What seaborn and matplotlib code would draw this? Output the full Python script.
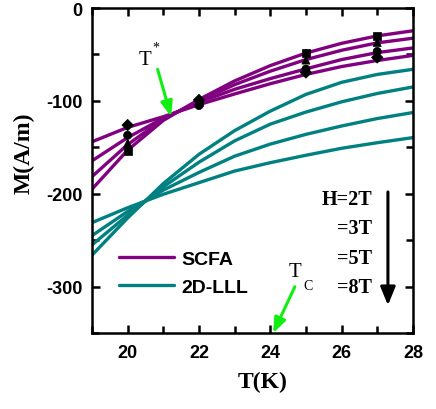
import numpy as np
import pandas as pd
import seaborn as sns
import matplotlib.pyplot as plt
from matplotlib.lines import Line2D
from matplotlib.ticker import MultipleLocator

T = [19, 20, 21, 22, 23, 24, 25, 26, 27, 28]

# SCFA fits (purple)
scfa_2T = [-195, -153, -121, -98.5, -78.5, -62, -48.5, -38, -30, -24.5]
scfa_3T = [-181.5, -147, -119.5, -100, -82.5, -68, -55.5, -45.5, -37.5, -32.5]
scfa_5T = [-164.5, -139.5, -118.5, -101.5, -87.5, -76, -65.5, -55.5, -48, -43]
scfa_8T = [-144, -128.5, -117, -104, -92.5, -81.5, -71.5, -63, -56.5, -51]

# 2D-LLL fits (teal)
lll_2T = [-266, -226, -189, -157.5, -132, -111, -93, -80, -71.5, -66]
lll_3T = [-255, -223, -192.5, -166, -143, -125, -112, -101, -92, -85]
lll_5T = [-245, -219, -196, -177, -159.5, -146.5, -136, -127, -119, -112.5]
lll_8T = [-231, -215, -200.5, -188, -175.5, -166.5, -158.5, -151, -145, -139.5]

# measured points
T_pts = [20, 22, 25, 27]
pts_2T = [-154, -101, -48.5, -30.5]
pts_3T = [-145.6, -100, -56, -37]
pts_5T = [-137, -105, -65.8, -46.7]
pts_8T = [-126, -99, -69.4, -53.2]
err = 4

fields = ['2T', '3T', '5T', '8T']

rows = []
for model, curves in [('SCFA', [scfa_2T, scfa_3T, scfa_5T, scfa_8T]),
                      ('2D-LLL', [lll_2T, lll_3T, lll_5T, lll_8T])]:
    for h, vals in zip(fields, curves):
        for t, m in zip(T, vals):
            rows.append({'T': t, 'M': m, 'model': model, 'H': model + h})
curves_df = pd.DataFrame(rows)

pts_rows = []
for h, vals in zip(fields, [pts_2T, pts_3T, pts_5T, pts_8T]):
    for t, m in zip(T_pts, vals):
        pts_rows.append({'T': t, 'M': m, 'H': h})
pts_df = pd.DataFrame(pts_rows)

sns.set_style('ticks')
plt.rcParams['font.family'] = ['Liberation Sans', 'DejaVu Sans']
plt.rcParams['axes.unicode_minus'] = False
plt.rcParams['text.color'] = 'black'
plt.rcParams['axes.labelcolor'] = 'black'
plt.rcParams['xtick.color'] = 'black'
plt.rcParams['ytick.color'] = 'black'
plt.rcParams['axes.edgecolor'] = 'black'

fig = plt.figure(figsize=(4.36, 4.10), dpi=100)
ax = fig.add_axes([0.211, 0.185, 0.736, 0.793])

colors = {'SCFA': '#800080', '2D-LLL': '#008080'}
sns.lineplot(data=curves_df, x='T', y='M', hue='model', units='H', estimator=None,
             palette=colors, linewidth=2.4, legend=False, ax=ax, zorder=2)

ax.errorbar(pts_df['T'], pts_df['M'], yerr=err, fmt='none', ecolor='black',
            elinewidth=1.2, zorder=3)
sns.scatterplot(data=pts_df, x='T', y='M', style='H', markers=['s', '^', 'o', 'D'],
                color='black', s=34, edgecolor='black', linewidth=0.5,
                legend=False, ax=ax, zorder=4)

ax.set_xlim(19, 28)
ax.set_ylim(-350, 0)
ax.xaxis.set_major_locator(MultipleLocator(2))
ax.xaxis.set_minor_locator(MultipleLocator(1))
ax.yaxis.set_major_locator(MultipleLocator(100))
ax.yaxis.set_minor_locator(MultipleLocator(50))
ax.tick_params(which='both', direction='in', top=True, right=True, width=1.8,
               color='black')
ax.tick_params(which='major', length=6, labelsize=13)
ax.tick_params(which='minor', length=5)
ax.tick_params(axis='x', pad=8)
ax.tick_params(axis='y', pad=7)
for lab in ax.get_xticklabels() + ax.get_yticklabels():
    lab.set_fontweight('bold')
for sp in ax.spines.values():
    sp.set_linewidth(1.8)
    sp.set_visible(True)

serif = ['Liberation Serif', 'DejaVu Serif']
ax.set_xlabel('T(K)', fontsize=17, fontweight='bold', family=serif)
ax.set_ylabel('M(A/m)', fontsize=17, fontweight='bold', family=serif)
ax.xaxis.set_label_coords(0.533, -0.115)
ax.yaxis.set_label_coords(-0.18, 0.555)

handles = [Line2D([], [], color=colors['SCFA'], lw=2.4),
           Line2D([], [], color=colors['2D-LLL'], lw=2.4)]
ax.legend(handles, ['SCFA', '2D-LLL'], loc='lower left', bbox_to_anchor=(0.03, 0.06),
          frameon=False, handlelength=2.8, handletextpad=0.4, labelspacing=0.55,
          prop={'weight': 'bold', 'size': 14})

# field labels and arrow
for i, s in enumerate(['H=2T', '=3T', '=5T', '=8T']):
    ax.text(26.85, -206 - i * 31.3, s, ha='right', va='center', fontsize=14.5,
            fontweight='bold', family=serif)
ax.annotate('', xy=(27.3, -320), xytext=(27.3, -198),
            arrowprops=dict(arrowstyle='-|>,head_length=1.1,head_width=0.45',
                            color='black', lw=2.2, shrinkA=0, shrinkB=0))

# green arrows
green = '#11ee11'
ax.annotate('', xy=(21.22, -117), xytext=(20.84, -66),
            arrowprops=dict(arrowstyle='-|>,head_length=0.9,head_width=0.35',
                            color=green, lw=2.2, shrinkA=0, shrinkB=0))
ax.text(20.5, -55, 'T', ha='center', va='center', fontsize=15, family=serif)
ax.text(20.79, -42, '*', ha='center', va='center', fontsize=10, family=serif)
ax.annotate('', xy=(24.08, -350), xytext=(24.69, -300),
            arrowprops=dict(arrowstyle='-|>,head_length=0.9,head_width=0.35',
                            color=green, lw=2.2, shrinkA=0, shrinkB=0))
ax.text(24.7, -284, 'T', ha='center', va='center', fontsize=15, family=serif)
ax.text(25.07, -299, 'C', ha='center', va='center', fontsize=10, family=serif)

fig.savefig('out.png', dpi=100)
